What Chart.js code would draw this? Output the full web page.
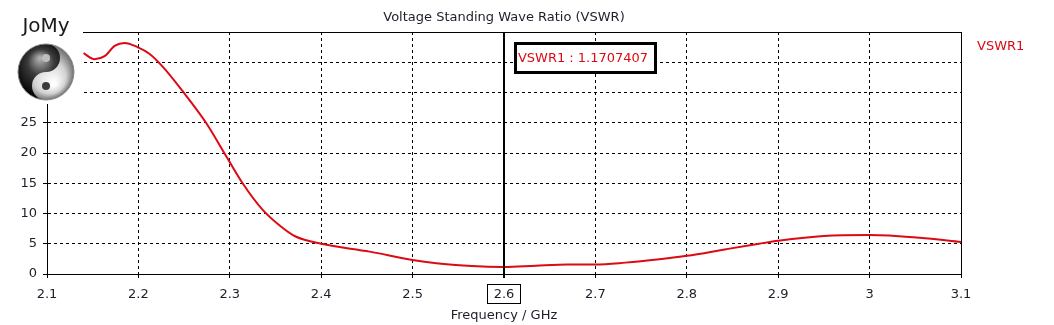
<!DOCTYPE html>
<html>
<head>
<meta charset="utf-8">
<script src="https://cdn.jsdelivr.net/npm/chart.js@4/dist/chart.umd.min.js"></script>
<style>
  html, body { margin: 0; padding: 0; background: #fff; }
  #wrap { width: 1054px; height: 325px; }
</style>
</head>
<body>
<div id="wrap"><canvas id="vswr" width="1054" height="325"></canvas></div>
<script>
// values
const freqGHz = [2.140, 2.152, 2.163, 2.174, 2.185, 2.199, 2.212, 2.227, 2.248,
                 2.274, 2.294, 2.314, 2.336, 2.358, 2.372, 2.400, 2.453, 2.500, 2.526,
                 2.551, 2.577, 2.600, 2.635, 2.670, 2.700, 2.733, 2.770, 2.800, 2.843,
                 2.879, 2.900, 2.950, 3.000, 3.055, 3.100];
const vswr1 = [36.5, 35.5, 36.0, 37.7, 38.2, 37.5, 36.4, 34.2, 30.3,
               25.0, 20.0, 15.0, 10.6, 7.6, 6.2, 5.0, 3.7, 2.33, 1.78,
               1.44, 1.22, 1.17, 1.38, 1.55, 1.55, 1.88, 2.44, 3.0, 4.1,
               5.0, 5.5, 6.3, 6.45, 6.0, 5.3];

const xTickValues = [2.1, 2.2, 2.3, 2.4, 2.5, 2.6, 2.7, 2.8, 2.9, 3.0, 3.1];
const xTickLabels = ["2.1", "2.2", "2.3", "2.4", "2.5", "2.6", "2.7", "2.8", "2.9", "3", "3.1"];
const yTickValues = [0, 5, 10, 15, 20, 25, 30, 35, 40];
const yTickLabels = ["0", "5", "10", "15", "20", "25", "30", "35", "40"];

const markerFreq = 2.6;
const markerValue = "1.1707407";
const seriesName = "VSWR1";

const FONT = '"DejaVu Sans", Verdana, sans-serif';
const RED = "#dc0a14";
const INK = "#1e1e2a";

// title, legend, marker, frame and logo
const decorPlugin = {
  id: "decor",
  afterDatasetsDraw(chart) {
    const { ctx, chartArea: a, scales } = chart;
    ctx.save();

    // solid frame top / right
    ctx.strokeStyle = "#000";
    ctx.lineWidth = 1;
    ctx.beginPath();
    ctx.moveTo(Math.round(a.left) + 0.5, Math.round(a.top) + 0.5);
    ctx.lineTo(Math.round(a.right) + 0.5, Math.round(a.top) + 0.5);
    ctx.lineTo(Math.round(a.right) + 0.5, Math.round(a.bottom) + 0.5);
    ctx.stroke();

    // marker line, sits over the 2.6 grid line
    const mx = Math.round(scales.x.getPixelForValue(markerFreq));
    ctx.lineWidth = 2;
    ctx.beginPath();
    ctx.moveTo(mx, a.top);
    ctx.lineTo(mx, a.bottom + 4);
    ctx.stroke();

    // marker readout box
    ctx.fillStyle = "#fff";
    ctx.fillRect(mx + 11.5, 43.5, 140, 29);
    ctx.lineWidth = 3;
    ctx.strokeRect(mx + 11.5, 43.5, 140, 29);
    ctx.fillStyle = RED;
    ctx.font = "13px " + FONT;
    ctx.textAlign = "center";
    ctx.textBaseline = "alphabetic";
    ctx.fillText(seriesName + " : " + markerValue, mx + 79, 62);

    // box round the marker's x label
    ctx.lineWidth = 1;
    ctx.strokeRect(mx - 16.5, 284.5, 33, 19);

    ctx.restore();
  },
  afterDraw(chart) {
    const { ctx, chartArea: a } = chart;
    const cx0 = (a.left + a.right) / 2;
    ctx.save();
    ctx.font = "13px " + FONT;
    ctx.textBaseline = "alphabetic";

    // title + x axis title
    ctx.fillStyle = INK;
    ctx.textAlign = "center";
    ctx.fillText("Voltage Standing Wave Ratio (VSWR)", cx0, 21);
    ctx.fillText("Frequency / GHz", cx0, 319);

    // legend
    ctx.fillStyle = RED;
    ctx.textAlign = "left";
    ctx.fillText(seriesName, 977, 50);

    // logo
    ctx.fillStyle = "#fff";
    ctx.fillRect(0, 0, 83, 104);
    ctx.fillStyle = "#1a1a1a";
    ctx.font = "20px " + FONT;
    ctx.textAlign = "center";
    ctx.fillText("JoMy", 46, 32);

    const cx = 46, cy = 72, r = 28;
    let g = ctx.createRadialGradient(cx + 8, cy + 12, 2, cx, cy, r);
    g.addColorStop(0, "#ffffff");
    g.addColorStop(0.55, "#d2d2d2");
    g.addColorStop(1, "#6e6e6e");
    ctx.fillStyle = g;
    ctx.beginPath();
    ctx.arc(cx, cy, r, 0, Math.PI * 2);
    ctx.fill();

    g = ctx.createRadialGradient(cx - 6, cy - 14, 1, cx - 4, cy - 4, r);
    g.addColorStop(0, "#b0b0b0");
    g.addColorStop(0.45, "#3a3a3a");
    g.addColorStop(1, "#050505");
    ctx.fillStyle = g;
    ctx.beginPath();
    ctx.arc(cx, cy, r, Math.PI / 2, Math.PI * 1.5, false);
    ctx.arc(cx, cy - r / 2, r / 2, -Math.PI / 2, Math.PI / 2, false);
    ctx.arc(cx, cy + r / 2, r / 2, -Math.PI / 2, Math.PI / 2, true);
    ctx.closePath();
    ctx.fill();

    ctx.fillStyle = "#bdbdbd";
    ctx.beginPath();
    ctx.arc(cx, cy - r / 2, r / 7, 0, Math.PI * 2);
    ctx.fill();
    ctx.fillStyle = "#3a3a3a";
    ctx.beginPath();
    ctx.arc(cx, cy + r / 2, r / 7, 0, Math.PI * 2);
    ctx.fill();

    ctx.strokeStyle = "#8a8a8a";
    ctx.lineWidth = 1;
    ctx.beginPath();
    ctx.arc(cx, cy, r, 0, Math.PI * 2);
    ctx.stroke();

    ctx.restore();
  }
};

const gridOpts = {
  color: "#000",
  lineWidth: 1,
  drawTicks: true,
  tickLength: 4,
  tickColor: "#000",
  tickBorderDash: []
};
const borderOpts = { display: true, color: "#000", width: 1, dash: [3, 3] };

new Chart(document.getElementById("vswr"), {
  type: "line",
  data: {
    datasets: [{
      label: seriesName,
      data: freqGHz.map((f, i) => ({ x: f, y: vswr1[i] })),
      borderColor: RED,
      borderWidth: 2,
      pointRadius: 0,
      fill: false,
      cubicInterpolationMode: "monotone"
    }]
  },
  options: {
    responsive: false,
    animation: false,
    events: [],
    layout: { padding: { left: 0, top: 32, right: 93, bottom: 0 } },
    plugins: { legend: { display: false }, title: { display: false }, tooltip: { enabled: false } },
    scales: {
      x: {
        type: "linear",
        min: 2.1,
        max: 3.1,
        afterBuildTicks: s => { s.ticks = xTickValues.map(v => ({ value: v })); },
        afterFit: s => { s.height = 51; },
        ticks: {
          autoSkip: false,
          maxRotation: 0,
          padding: 9,
          color: INK,
          font: { family: FONT, size: 13 },
          callback: (v, i) => xTickLabels[i]
        },
        grid: gridOpts,
        border: borderOpts
      },
      y: {
        min: 0,
        max: 40,
        afterBuildTicks: s => { s.ticks = yTickValues.map(v => ({ value: v })); },
        afterFit: s => { s.width = 47; },
        ticks: {
          padding: 6,
          color: INK,
          font: { family: FONT, size: 13 },
          callback: (v, i) => yTickLabels[i]
        },
        grid: gridOpts,
        border: borderOpts
      }
    }
  },
  plugins: [decorPlugin]
});
</script>
</body>
</html>
